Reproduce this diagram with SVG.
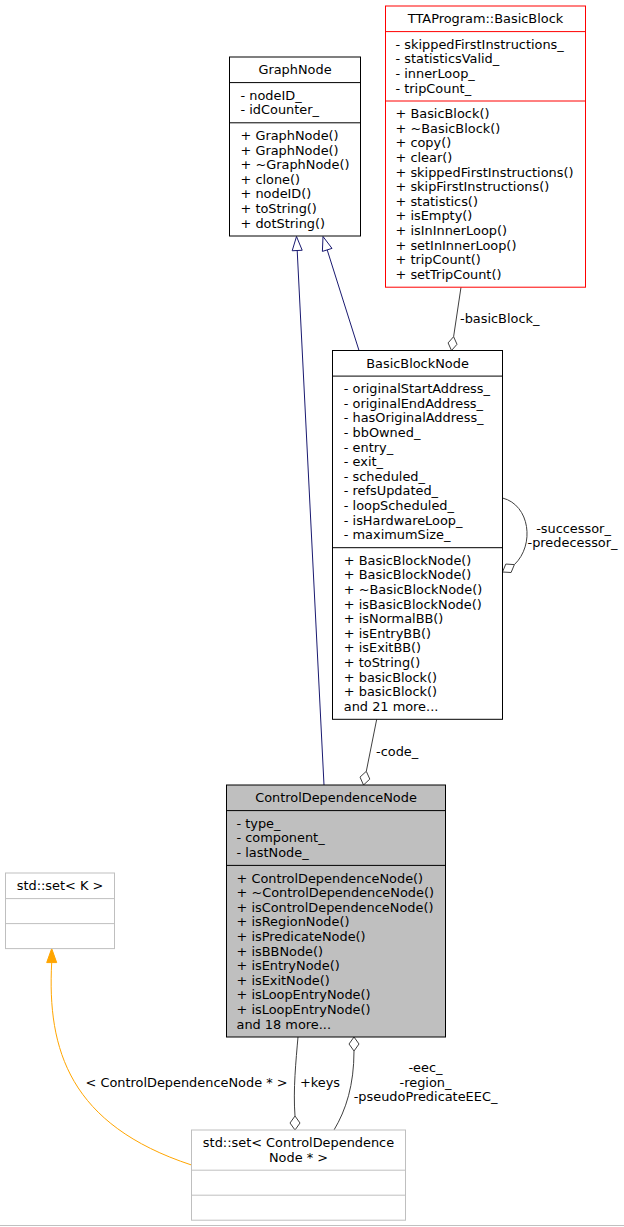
<svg xmlns="http://www.w3.org/2000/svg" width="624" height="1227" viewBox="0 0 624 1227">
<style>
text{font-family:"DejaVu Sans","Liberation Sans",sans-serif;font-size:12.9px;fill:#000}
.t{text-anchor:middle}
.m{text-anchor:middle}
.box{fill:#fff;stroke:#000;stroke-width:1}
.red{fill:#fff;stroke:#ff0000;stroke-width:1}
.cur{fill:#bfbfbf;stroke:#000;stroke-width:1}
.grey{fill:#fff;stroke:#bfbfbf;stroke-width:1}
.sep{stroke:#000;stroke-width:1}
.sepr{stroke:#ff0000;stroke-width:1}
.sepg{stroke:#bfbfbf;stroke-width:1}
.inh{fill:none;stroke:#191970;stroke-width:1}
.inhh{fill:#fff;stroke:#191970;stroke-width:1}
.use{fill:none;stroke:#404040;stroke-width:1}
.dia{fill:#fff;stroke:#404040;stroke-width:1}
.tpl{fill:none;stroke:#ffa500;stroke-width:1}
.tplh{fill:#ffa500;stroke:#ffa500;stroke-width:1}
</style>

<g id="connectors">
  <!-- CDN -> GraphNode -->
  <line class="inh" x1="324" y1="785" x2="297.2" y2="250.5"/>
  <polygon class="inhh" points="296.5,236.5 302.2,250.25 292.2,250.75"/>
  <!-- BBN -> GraphNode -->
  <line class="inh" x1="359" y1="350.5" x2="327.2" y2="249.9"/>
  <polygon class="inhh" points="323,236.5 332,248.4 322.4,251.4"/>
  <!-- BasicBlock -> BBN -->
  <line class="use" x1="461" y1="287.2" x2="453.6" y2="336.7"/>
  <polygon class="dia" points="451.5,350.5 457,344.3 453.6,336.7 448.1,342.9"/>
  <text x="460" y="323">-basicBlock_</text>
  <!-- self loop -->
  <path class="use" d="M502.5,498 C530,505 535,545 514.4,564.6"/>
  <polygon class="dia" points="502.5,572 511.1,572.5 514.4,564.6 505.8,564.05"/>
  <text class="m" x="573.5" y="532.6">-successor_</text>
  <text class="m" x="572.5" y="547.2">-predecessor_</text>
  <!-- BBN -> CDN -->
  <line class="use" x1="376.7" y1="719.3" x2="366.3" y2="771.3"/>
  <polygon class="dia" points="363.5,785 369.8,779.1 366.3,771.3 360,777.1"/>
  <text x="376" y="756">-code_</text>
  <!-- set -> CDN -->
  <path class="use" d="M354,1051 C354,1085 346,1110 334,1130"/>
  <polygon class="dia" points="354,1037 359,1044 354,1051 349,1044"/>
  <text class="m" x="425.5" y="1072">-eec_</text>
  <text class="m" x="425.5" y="1086.6">-region_</text>
  <text class="m" x="425.5" y="1101.2">-pseudoPredicateEEC_</text>
  <!-- CDN -> set -->
  <path class="use" d="M298,1037 C296,1060 293,1090 295,1116"/>
  <polygon class="dia" points="295,1130 300,1123 295,1116 290,1123"/>
  <text x="300" y="1086.6">+keys</text>
  <!-- template -->
  <path class="tpl" d="M191.5,1165 C70,1125 47,1050 51.7,962.6"/>
  <polygon class="tplh" points="51.7,948.6 56.7,962.6 46.7,962.6"/>
  <text class="m" x="186.5" y="1086.6">&lt; ControlDependenceNode * &gt;</text>
</g>

<g id="GraphNode">
  <rect class="box" x="229.5" y="57" width="131" height="179"/>
  <line class="sep" x1="229.5" y1="82.6" x2="360.5" y2="82.6"/>
  <line class="sep" x1="229.5" y1="122.8" x2="360.5" y2="122.8"/>
  <text class="t" x="295" y="74.1">GraphNode</text>
  <text x="240.5" y="99.7">- nodeID_</text>
  <text x="240.5" y="114.3">- idCounter_</text>
  <text x="240.5" y="139.9">+ GraphNode()</text>
  <text x="240.5" y="154.5">+ GraphNode()</text>
  <text x="240.5" y="169.1">+ ~GraphNode()</text>
  <text x="240.5" y="183.7">+ clone()</text>
  <text x="240.5" y="198.3">+ nodeID()</text>
  <text x="240.5" y="212.9">+ toString()</text>
  <text x="240.5" y="227.5">+ dotString()</text>
</g>

<g id="TTAProgram_BasicBlock">
  <rect class="red" x="385.5" y="6" width="200" height="281.2"/>
  <line class="sepr" x1="385.5" y1="31.6" x2="585.5" y2="31.6"/>
  <line class="sepr" x1="385.5" y1="101" x2="585.5" y2="101"/>
  <text class="t" x="485.5" y="23.1">TTAProgram::BasicBlock</text>
  <text x="395.5" y="48.7">- skippedFirstInstructions_</text>
  <text x="395.5" y="63.3">- statisticsValid_</text>
  <text x="395.5" y="77.9">- innerLoop_</text>
  <text x="395.5" y="92.5">- tripCount_</text>
  <text x="395.5" y="118.1">+ BasicBlock()</text>
  <text x="395.5" y="132.7">+ ~BasicBlock()</text>
  <text x="395.5" y="147.3">+ copy()</text>
  <text x="395.5" y="161.9">+ clear()</text>
  <text x="395.5" y="176.5">+ skippedFirstInstructions()</text>
  <text x="395.5" y="191.1">+ skipFirstInstructions()</text>
  <text x="395.5" y="205.7">+ statistics()</text>
  <text x="395.5" y="220.3">+ isEmpty()</text>
  <text x="395.5" y="234.9">+ isInInnerLoop()</text>
  <text x="395.5" y="249.5">+ setInInnerLoop()</text>
  <text x="395.5" y="264.1">+ tripCount()</text>
  <text x="395.5" y="278.7">+ setTripCount()</text>
</g>

<g id="BasicBlockNode">
  <rect class="box" x="332.5" y="350.5" width="170" height="368.8"/>
  <line class="sep" x1="332.5" y1="376.1" x2="502.5" y2="376.1"/>
  <line class="sep" x1="332.5" y1="547.7" x2="502.5" y2="547.7"/>
  <text class="t" x="417.5" y="367.6">BasicBlockNode</text>
  <text x="343.8" y="393.2">- originalStartAddress_</text>
  <text x="343.8" y="407.8">- originalEndAddress_</text>
  <text x="343.8" y="422.4">- hasOriginalAddress_</text>
  <text x="343.8" y="437">- bbOwned_</text>
  <text x="343.8" y="451.6">- entry_</text>
  <text x="343.8" y="466.2">- exit_</text>
  <text x="343.8" y="480.8">- scheduled_</text>
  <text x="343.8" y="495.4">- refsUpdated_</text>
  <text x="343.8" y="510">- loopScheduled_</text>
  <text x="343.8" y="524.6">- isHardwareLoop_</text>
  <text x="343.8" y="539.2">- maximumSize_</text>
  <text x="343.8" y="564.8">+ BasicBlockNode()</text>
  <text x="343.8" y="579.4">+ BasicBlockNode()</text>
  <text x="343.8" y="594">+ ~BasicBlockNode()</text>
  <text x="343.8" y="608.6">+ isBasicBlockNode()</text>
  <text x="343.8" y="623.2">+ isNormalBB()</text>
  <text x="343.8" y="637.8">+ isEntryBB()</text>
  <text x="343.8" y="652.4">+ isExitBB()</text>
  <text x="343.8" y="667">+ toString()</text>
  <text x="343.8" y="681.6">+ basicBlock()</text>
  <text x="343.8" y="696.2">+ basicBlock()</text>
  <text x="343.8" y="710.8">and 21 more...</text>
</g>

<g id="ControlDependenceNode">
  <rect class="cur" x="226.5" y="785" width="219" height="252"/>
  <line class="sep" x1="226.5" y1="810.6" x2="445.5" y2="810.6"/>
  <line class="sep" x1="226.5" y1="865.4" x2="445.5" y2="865.4"/>
  <text class="t" x="336" y="802.1">ControlDependenceNode</text>
  <text x="236.5" y="827.7">- type_</text>
  <text x="236.5" y="842.3">- component_</text>
  <text x="236.5" y="856.9">- lastNode_</text>
  <text x="236.5" y="882.5">+ ControlDependenceNode()</text>
  <text x="236.5" y="897.1">+ ~ControlDependenceNode()</text>
  <text x="236.5" y="911.7">+ isControlDependenceNode()</text>
  <text x="236.5" y="926.3">+ isRegionNode()</text>
  <text x="236.5" y="940.9">+ isPredicateNode()</text>
  <text x="236.5" y="955.5">+ isBBNode()</text>
  <text x="236.5" y="970.1">+ isEntryNode()</text>
  <text x="236.5" y="984.7">+ isExitNode()</text>
  <text x="236.5" y="999.3">+ isLoopEntryNode()</text>
  <text x="236.5" y="1013.9">+ isLoopEntryNode()</text>
  <text x="236.5" y="1028.5">and 18 more...</text>
</g>

<g id="std_set_K">
  <rect class="grey" x="5.5" y="873" width="109" height="75.6"/>
  <line class="sepg" x1="5.5" y1="898.6" x2="114.5" y2="898.6"/>
  <line class="sepg" x1="5.5" y1="923.6" x2="114.5" y2="923.6"/>
  <text class="t" x="60" y="890.1">std::set&lt; K &gt;</text>
</g>

<g id="std_set_CDN">
  <rect class="grey" x="191.5" y="1130" width="214" height="90.2"/>
  <line class="sepg" x1="191.5" y1="1170.2" x2="405.5" y2="1170.2"/>
  <line class="sepg" x1="191.5" y1="1195.2" x2="405.5" y2="1195.2"/>
  <text class="t" x="298.5" y="1147.1">std::set&lt; ControlDependence</text>
  <text class="t" x="298.5" y="1161.7">Node * &gt;</text>
</g>

<line x1="0" y1="1225.5" x2="624" y2="1225.5" stroke="#c0c0c0" stroke-width="1"/>
</svg>
